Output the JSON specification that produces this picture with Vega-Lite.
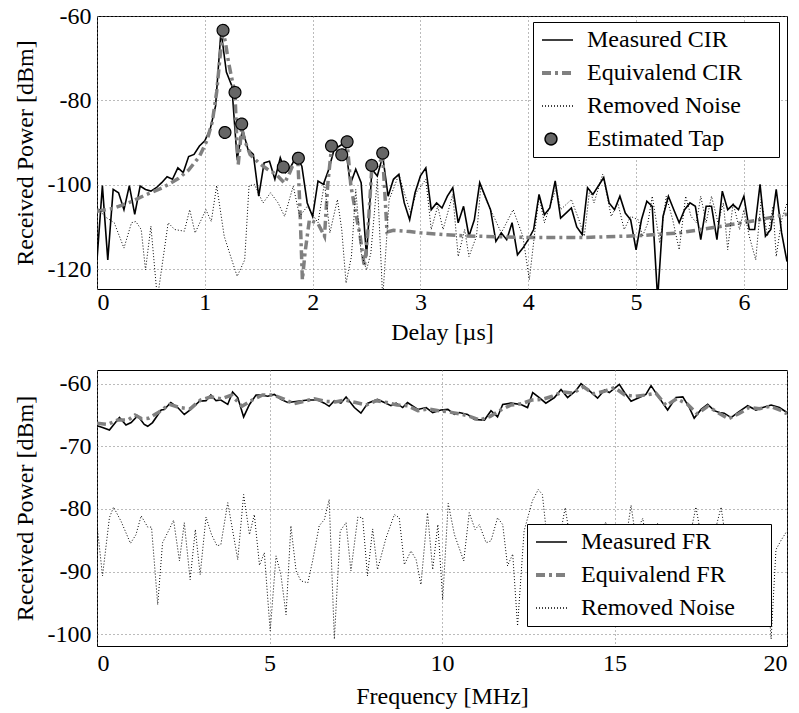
{
  "$schema": "https://vega.github.io/schema/vega-lite/v6.json",
  "padding": {"left": 12, "top": 3, "right": 13, "bottom": 3},
  "spacing": 24,
  "config": {
    "font": "Liberation Serif",
    "view": {"stroke": "black", "strokeWidth": 1},
    "axis": {
      "labelFont": "Liberation Serif", "titleFont": "Liberation Serif",
      "labelFontSize": 24, "titleFontSize": 24, "titleFontWeight": "normal",
      "labelColor": "black", "titleColor": "black",
      "grid": true, "gridColor": "#777", "gridDash": [1, 3], "gridWidth": 1,
      "domain": false, "ticks": false,
      "labelExpr": "replace(datum.label, '\u2212', '-')"
    },
    "axisX": {"labelPadding": 3, "titlePadding": 7},
    "axisY": {"labelPadding": 6, "titlePadding": 10},
    "legend": {"title": null, "labelFont": "Liberation Serif", "labelFontSize": 24, "labelColor": "black", "labelOffset": 24, "rowPadding": 9, "padding": 6,
      "labelLimit": 400,
      "strokeColor": "black", "fillColor": "white", "cornerRadius": 0, "symbolStrokeWidth": 1.5, "symbolSize": 140, "symbolOpacity": 1}
  },
  "resolve": {
    "scale": {"x": "independent", "y": "independent", "stroke": "independent", "strokeDash": "independent", "shape": "independent"},
    "legend": {"stroke": "independent", "strokeDash": "independent", "shape": "independent"}
  },
  "vconcat": [
    {
      "width": 690,
      "height": 273,
      "layer": [
        {
          "data": {"values": [
            {"t":0.00,"v":-117.8},{"t":0.05,"v":-100.2},{"t":0.10,"v":-117.8},{"t":0.15,"v":-101.1},{"t":0.20,"v":-101.9},
            {"t":0.25,"v":-105.9},{"t":0.30,"v":-100.2},{"t":0.35,"v":-107.0},{"t":0.40,"v":-100.3},{"t":0.45,"v":-101.1},
            {"t":0.50,"v":-101.5},{"t":0.55,"v":-100.7},{"t":0.60,"v":-99.5},{"t":0.65,"v":-98.1},{"t":0.70,"v":-98.7},
            {"t":0.75,"v":-96.0},{"t":0.80,"v":-97.1},{"t":0.85,"v":-93.3},{"t":0.90,"v":-92.8},{"t":0.95,"v":-90.8},
            {"t":1.00,"v":-89.6},{"t":1.05,"v":-86.8},{"t":1.10,"v":-81.3},{"t":1.15,"v":-63.5},{"t":1.20,"v":-73.3},
            {"t":1.25,"v":-76.5},{"t":1.30,"v":-94.0},{"t":1.35,"v":-86.8},{"t":1.40,"v":-91.6},{"t":1.45,"v":-92.8},
            {"t":1.50,"v":-102.7},{"t":1.55,"v":-94.8},{"t":1.60,"v":-94.4},{"t":1.65,"v":-98.7},{"t":1.70,"v":-93.6},
            {"t":1.75,"v":-97.1},{"t":1.80,"v":-95.6},{"t":1.85,"v":-93.2},{"t":1.90,"v":-95.6},{"t":1.95,"v":-104.3},
            {"t":2.00,"v":-107.5},{"t":2.05,"v":-99.1},{"t":2.10,"v":-99.9},{"t":2.15,"v":-96.3},{"t":2.20,"v":-91.6},
            {"t":2.25,"v":-90.8},{"t":2.30,"v":-90.0},{"t":2.35,"v":-99.9},{"t":2.40,"v":-96.3},{"t":2.45,"v":-99.5},
            {"t":2.50,"v":-117.0},{"t":2.55,"v":-96.3},{"t":2.60,"v":-97.9},{"t":2.65,"v":-93.2},{"t":2.70,"v":-102.7},
            {"t":2.75,"v":-98.7},{"t":2.80,"v":-97.5},{"t":2.85,"v":-104.3},{"t":2.90,"v":-108.3},{"t":2.95,"v":-101.9},
            {"t":3.00,"v":-97.9},{"t":3.05,"v":-96.0},{"t":3.10,"v":-105.9},{"t":3.15,"v":-104.3},{"t":3.20,"v":-105.5},
            {"t":3.25,"v":-102.7},{"t":3.30,"v":-100.7},{"t":3.35,"v":-109.0},{"t":3.40,"v":-105.1},{"t":3.45,"v":-112.2},
            {"t":3.50,"v":-108.3},{"t":3.55,"v":-99.5},{"t":3.60,"v":-102.7},{"t":3.65,"v":-105.9},{"t":3.70,"v":-113.4},
            {"t":3.75,"v":-111.4},{"t":3.80,"v":-113.0},{"t":3.85,"v":-109.0},{"t":3.90,"v":-116.6},{"t":3.95,"v":-115.0},
            {"t":4.00,"v":-113.0},{"t":4.05,"v":-110.6},{"t":4.10,"v":-102.3},{"t":4.15,"v":-107.1},{"t":4.20,"v":-105.5},
            {"t":4.25,"v":-99.1},{"t":4.30,"v":-107.9},{"t":4.35,"v":-106.7},{"t":4.40,"v":-105.5},{"t":4.45,"v":-110.0},
            {"t":4.50,"v":-111.8},{"t":4.55,"v":-100.7},{"t":4.60,"v":-102.3},{"t":4.65,"v":-100.3},{"t":4.70,"v":-98.3},
            {"t":4.75,"v":-104.3},{"t":4.80,"v":-105.9},{"t":4.85,"v":-102.7},{"t":4.90,"v":-106.7},{"t":4.95,"v":-108.3},
            {"t":5.00,"v":-115.4},{"t":5.05,"v":-108.3},{"t":5.10,"v":-103.9},{"t":5.15,"v":-105.1},{"t":5.20,"v":-127.0},
            {"t":5.25,"v":-107.5},{"t":5.30,"v":-102.7},{"t":5.35,"v":-105.9},{"t":5.40,"v":-109.0},{"t":5.45,"v":-105.9},
            {"t":5.50,"v":-104.3},{"t":5.55,"v":-105.1},{"t":5.60,"v":-113.0},{"t":5.65,"v":-105.1},{"t":5.70,"v":-105.1},
            {"t":5.75,"v":-113.0},{"t":5.80,"v":-101.5},{"t":5.85,"v":-105.9},{"t":5.90,"v":-104.7},{"t":5.95,"v":-105.9},
            {"t":6.00,"v":-102.7},{"t":6.05,"v":-110.6},{"t":6.10,"v":-110.6},{"t":6.15,"v":-99.9},{"t":6.20,"v":-112.2},
            {"t":6.25,"v":-110.6},{"t":6.30,"v":-101.1},{"t":6.35,"v":-111.4},{"t":6.40,"v":-118.2}
          ]},
          "mark": {"type": "line", "stroke": "black", "strokeWidth": 1.6, "clip": true},
          "encoding": {
            "x": {"field": "t", "type": "quantitative", "scale": {"domain": [0, 6.4], "nice": false, "zero": false},
                  "axis": {"values": [0, 1, 2, 3, 4, 5, 6], "format": "d", "title": "Delay [µs]", "labelPadding": 1, "titlePadding": 6}},
            "y": {"field": "v", "type": "quantitative", "scale": {"domain": [-124.7, -60], "nice": false, "zero": false},
                  "axis": {"values": [-120, -100, -80, -60], "format": "d", "title": "Received Power [dBm]"}}
          }
        },
        {
          "data": {"values": [
            {"t":0.0,"v":-106.3},{"t":0.15,"v":-105.6},{"t":0.3,"v":-104.2},{"t":0.45,"v":-102.4},{"t":0.6,"v":-100.8},
            {"t":0.75,"v":-98.6},{"t":0.85,"v":-96.5},{"t":0.95,"v":-93.3},{"t":1.02,"v":-89.5},{"t":1.07,"v":-85.0},
            {"t":1.11,"v":-78.0},{"t":1.14,"v":-70.0},{"t":1.169,"v":-63.8},{"t":1.19,"v":-66.0},{"t":1.22,"v":-71.0},
            {"t":1.26,"v":-76.0},{"t":1.28,"v":-78.5},{"t":1.295,"v":-88.0},{"t":1.31,"v":-95.2},{"t":1.342,"v":-86.5},
            {"t":1.37,"v":-89.5},{"t":1.42,"v":-92.8},{"t":1.5,"v":-94.8},{"t":1.58,"v":-96.3},{"t":1.66,"v":-97.5},
            {"t":1.74,"v":-99.6},{"t":1.79,"v":-97.0},{"t":1.86,"v":-92.5},{"t":1.88,"v":-104.0},{"t":1.905,"v":-122.5},
            {"t":1.93,"v":-116.0},{"t":1.97,"v":-108.3},{"t":2.05,"v":-109.2},{"t":2.11,"v":-112.2},{"t":2.14,"v":-100.0},
            {"t":2.175,"v":-91.2},{"t":2.22,"v":-91.5},{"t":2.27,"v":-92.5},{"t":2.32,"v":-90.0},{"t":2.355,"v":-100.3},
            {"t":2.4,"v":-106.7},{"t":2.44,"v":-112.0},{"t":2.48,"v":-119.4},{"t":2.51,"v":-112.0},{"t":2.548,"v":-96.5},
            {"t":2.6,"v":-95.5},{"t":2.65,"v":-93.5},{"t":2.67,"v":-102.0},{"t":2.69,"v":-111.2},{"t":2.75,"v":-110.8},
            {"t":2.9,"v":-111.1},{"t":3.0,"v":-111.4},{"t":3.4,"v":-112.1},{"t":4.0,"v":-112.5},{"t":4.5,"v":-112.5},
            {"t":5.0,"v":-112.1},{"t":5.4,"v":-111.4},{"t":5.8,"v":-109.8},{"t":6.1,"v":-108.5},{"t":6.4,"v":-107.0}
          ]},
          "mark": {"type": "line", "stroke": "#808080", "strokeWidth": 3.5, "strokeDash": [9, 4, 3, 4], "clip": true},
          "encoding": {
            "x": {"field": "t", "type": "quantitative"},
            "y": {"field": "v", "type": "quantitative"}
          }
        },
        {
          "data": {"values": [
            {"t":0.0,"v":-105.1},{"t":0.07,"v":-107.5},{"t":0.16,"v":-109.0},{"t":0.25,"v":-115.0},{"t":0.32,"v":-109.0},
            {"t":0.36,"v":-108.7},{"t":0.41,"v":-110.6},{"t":0.45,"v":-120.2},{"t":0.50,"v":-109.8},{"t":0.56,"v":-127.0},
            {"t":0.66,"v":-109.0},{"t":0.72,"v":-110.6},{"t":0.81,"v":-111.0},{"t":0.86,"v":-105.9},{"t":0.91,"v":-111.4},
            {"t":1.01,"v":-105.9},{"t":1.06,"v":-108.7},{"t":1.11,"v":-100.2},{"t":1.18,"v":-112.2},{"t":1.24,"v":-117.0},
            {"t":1.30,"v":-121.7},{"t":1.37,"v":-117.8},{"t":1.41,"v":-100.3},{"t":1.46,"v":-99.9},{"t":1.54,"v":-104.3},
            {"t":1.61,"v":-101.9},{"t":1.68,"v":-104.3},{"t":1.74,"v":-107.5},{"t":1.82,"v":-100.3},{"t":1.88,"v":-107.5},
            {"t":1.95,"v":-105.1},{"t":2.05,"v":-109.0},{"t":2.11,"v":-99.5},{"t":2.16,"v":-111.4},{"t":2.23,"v":-103.5},
            {"t":2.27,"v":-110.6},{"t":2.31,"v":-123.3},{"t":2.36,"v":-117.0},{"t":2.40,"v":-101.1},{"t":2.45,"v":-116.2},
            {"t":2.50,"v":-120.2},{"t":2.54,"v":-116.2},{"t":2.60,"v":-98.7},{"t":2.65,"v":-127.0},{"t":2.71,"v":-103.5},
            {"t":2.76,"v":-100.3},{"t":2.80,"v":-97.5},{"t":2.85,"v":-101.9},{"t":2.91,"v":-106.7},{"t":2.96,"v":-101.9},
            {"t":3.05,"v":-98.7},{"t":3.10,"v":-110.6},{"t":3.16,"v":-105.1},{"t":3.21,"v":-110.6},{"t":3.30,"v":-102.3},
            {"t":3.35,"v":-117.0},{"t":3.41,"v":-110.6},{"t":3.45,"v":-117.0},{"t":3.52,"v":-112.2},{"t":3.56,"v":-100.3},
            {"t":3.62,"v":-104.3},{"t":3.68,"v":-107.5},{"t":3.75,"v":-111.4},{"t":3.86,"v":-105.9},{"t":3.95,"v":-112.2},
            {"t":4.01,"v":-122.5},{"t":4.06,"v":-111.4},{"t":4.10,"v":-102.7},{"t":4.15,"v":-109.0},{"t":4.19,"v":-105.9},
            {"t":4.26,"v":-100.7},{"t":4.30,"v":-105.9},{"t":4.40,"v":-103.5},{"t":4.47,"v":-108.3},{"t":4.52,"v":-112.2},
            {"t":4.57,"v":-101.1},{"t":4.61,"v":-104.3},{"t":4.69,"v":-97.5},{"t":4.77,"v":-107.5},{"t":4.83,"v":-104.3},
            {"t":4.89,"v":-110.6},{"t":4.95,"v":-107.5},{"t":5.02,"v":-108.3},{"t":5.06,"v":-112.2},{"t":5.11,"v":-109.0},
            {"t":5.15,"v":-102.7},{"t":5.22,"v":-113.8},{"t":5.28,"v":-102.7},{"t":5.34,"v":-108.3},{"t":5.40,"v":-115.4},
            {"t":5.46,"v":-102.7},{"t":5.51,"v":-107.5},{"t":5.56,"v":-109.0},{"t":5.60,"v":-102.7},{"t":5.65,"v":-109.0},
            {"t":5.70,"v":-102.7},{"t":5.76,"v":-109.0},{"t":5.81,"v":-104.3},{"t":5.85,"v":-115.4},{"t":5.90,"v":-104.3},
            {"t":5.96,"v":-110.6},{"t":6.00,"v":-105.9},{"t":6.05,"v":-112.2},{"t":6.11,"v":-117.8},{"t":6.16,"v":-103.5},
            {"t":6.22,"v":-112.2},{"t":6.27,"v":-105.1},{"t":6.30,"v":-117.0},{"t":6.35,"v":-108.3},{"t":6.40,"v":-104.3}
          ]},
          "mark": {"type": "line", "stroke": "black", "strokeWidth": 1, "strokeDash": [1, 2], "clip": true},
          "encoding": {
            "x": {"field": "t", "type": "quantitative"},
            "y": {"field": "v", "type": "quantitative"}
          }
        },
        {
          "data": {"values": [
            {"t":1.169,"v":-63.4},{"t":1.187,"v":-87.6},{"t":1.28,"v":-78.1},{"t":1.342,"v":-85.6},{"t":1.728,"v":-95.8},
            {"t":1.868,"v":-93.7},{"t":2.175,"v":-90.8},{"t":2.27,"v":-92.9},{"t":2.32,"v":-89.8},{"t":2.548,"v":-95.4},
            {"t":2.65,"v":-92.5}
          ]},
          "mark": {"type": "point", "filled": true, "fill": "#666", "strokeWidth": 1.2, "size": 140, "opacity": 1},
          "encoding": {
            "x": {"field": "t", "type": "quantitative"},
            "y": {"field": "v", "type": "quantitative"},
            "stroke": {"datum": "Estimated Tap", "type": "nominal",
              "scale": {"domain": ["Measured CIR", "Equivalend CIR", "Removed Noise", "Estimated Tap"], "range": ["black", "#808080", "black", "black"]},
              "legend": {"orient": "none", "legendX": 436, "legendY": 6, "labelExpr": "datum.label + '\u00a0\u00a0\u2800'"}},
            "strokeDash": {"datum": "Estimated Tap", "type": "nominal",
              "scale": {"domain": ["Measured CIR", "Equivalend CIR", "Removed Noise", "Estimated Tap"], "range": [[1, 0], [9, 4, 3, 4], [1, 2], [1, 0]]},
              "legend": {"orient": "none", "legendX": 436, "legendY": 6, "labelExpr": "datum.label + '\u00a0\u00a0\u2800'"}},
            "shape": {"datum": "Estimated Tap", "type": "nominal",
              "scale": {"domain": ["Measured CIR", "Equivalend CIR", "Removed Noise", "Estimated Tap"],
                        "range": ["M-1.52,0L3.72,0", "M-1.52,-0.2L3.72,-0.2M-1.52,0L3.72,0M-1.52,0.2L3.72,0.2", "M-1.52,0L3.72,0", "circle"]},
              "legend": {"orient": "none", "legendX": 436, "legendY": 6, "labelExpr": "datum.label + '\u00a0\u00a0\u2800'"}}
          }
        }
      ]
    },
    {
      "width": 690,
      "height": 276,
      "layer": [
        {
          "data": {"values": [
            {"f":0.0,"v":-66.7},{"f":0.16,"v":-67.0},{"f":0.36,"v":-67.4},{"f":0.65,"v":-65.4},{"f":0.84,"v":-66.6},
            {"f":0.99,"v":-66.2},{"f":1.18,"v":-65.1},{"f":1.37,"v":-66.5},{"f":1.47,"v":-66.8},{"f":1.61,"v":-66.2},
            {"f":1.86,"v":-64.2},{"f":1.95,"v":-64.1},{"f":2.14,"v":-63.0},{"f":2.34,"v":-63.8},{"f":2.53,"v":-64.9},
            {"f":2.72,"v":-64.1},{"f":2.97,"v":-62.8},{"f":3.16,"v":-62.7},{"f":3.30,"v":-61.8},{"f":3.45,"v":-62.7},
            {"f":3.59,"v":-62.6},{"f":3.79,"v":-63.3},{"f":3.93,"v":-61.3},{"f":4.08,"v":-62.2},{"f":4.25,"v":-65.3},
            {"f":4.42,"v":-63.3},{"f":4.61,"v":-61.8},{"f":4.75,"v":-61.8},{"f":4.95,"v":-62.0},{"f":5.14,"v":-61.7},
            {"f":5.33,"v":-62.5},{"f":5.53,"v":-63.0},{"f":5.82,"v":-62.8},{"f":6.11,"v":-62.6},{"f":6.40,"v":-62.6},
            {"f":6.59,"v":-63.1},{"f":6.73,"v":-63.6},{"f":6.88,"v":-62.7},{"f":7.07,"v":-63.1},{"f":7.22,"v":-62.1},
            {"f":7.46,"v":-63.8},{"f":7.65,"v":-64.7},{"f":7.85,"v":-63.1},{"f":8.13,"v":-62.5},{"f":8.33,"v":-63.0},
            {"f":8.52,"v":-63.5},{"f":8.67,"v":-63.1},{"f":8.86,"v":-63.8},{"f":9.00,"v":-63.0},{"f":9.30,"v":-64.1},
            {"f":9.54,"v":-63.8},{"f":9.73,"v":-64.6},{"f":9.97,"v":-64.2},{"f":10.17,"v":-64.1},{"f":10.36,"v":-64.9},
            {"f":10.50,"v":-64.6},{"f":10.74,"v":-64.9},{"f":10.94,"v":-65.7},{"f":11.23,"v":-65.8},{"f":11.42,"v":-64.3},
            {"f":11.61,"v":-65.3},{"f":11.76,"v":-63.3},{"f":12.00,"v":-63.1},{"f":12.29,"v":-63.3},{"f":12.48,"v":-63.8},
            {"f":12.63,"v":-61.4},{"f":12.82,"v":-62.2},{"f":13.01,"v":-63.1},{"f":13.26,"v":-62.2},{"f":13.45,"v":-60.9},
            {"f":13.64,"v":-62.2},{"f":13.88,"v":-61.1},{"f":14.03,"v":-60.0},{"f":14.27,"v":-61.1},{"f":14.51,"v":-62.3},
            {"f":14.71,"v":-61.0},{"f":14.85,"v":-61.4},{"f":15.14,"v":-60.1},{"f":15.29,"v":-61.4},{"f":15.48,"v":-62.8},
            {"f":15.72,"v":-62.2},{"f":15.91,"v":-61.7},{"f":16.06,"v":-60.3},{"f":16.25,"v":-61.9},{"f":16.54,"v":-64.2},
            {"f":16.78,"v":-62.2},{"f":16.98,"v":-62.1},{"f":17.17,"v":-63.8},{"f":17.31,"v":-65.5},{"f":17.51,"v":-64.1},
            {"f":17.70,"v":-63.3},{"f":17.89,"v":-64.3},{"f":18.04,"v":-64.6},{"f":18.18,"v":-64.7},{"f":18.38,"v":-65.4},
            {"f":18.57,"v":-64.6},{"f":18.86,"v":-63.5},{"f":19.10,"v":-64.2},{"f":19.30,"v":-63.8},{"f":19.54,"v":-63.4},
            {"f":19.78,"v":-63.8},{"f":20.0,"v":-64.6}
          ]},
          "mark": {"type": "line", "stroke": "black", "strokeWidth": 1.6, "clip": true},
          "encoding": {
            "x": {"field": "f", "type": "quantitative", "scale": {"domain": [0, 20], "nice": false, "zero": false},
                  "axis": {"values": [0, 5, 10, 15, 20], "format": "d", "title": "Frequency [MHz]", "labelPadding": 5, "titlePadding": 9}},
            "y": {"field": "v", "type": "quantitative", "scale": {"domain": [-101.9, -57.8], "nice": false, "zero": false},
                  "axis": {"values": [-100, -90, -80, -70, -60], "format": "d", "title": "Received Power [dBm]"}}
          }
        },
        {
          "data": {"values": [
            {"f":0.0,"v":-66.3},{"f":0.3,"v":-66.5},{"f":0.6,"v":-65.8},{"f":0.9,"v":-65.8},{"f":1.1,"v":-65.0},
            {"f":1.3,"v":-65.6},{"f":1.5,"v":-65.5},{"f":1.8,"v":-64.5},{"f":2.1,"v":-63.3},{"f":2.4,"v":-63.8},
            {"f":2.7,"v":-64.0},{"f":3.0,"v":-62.6},{"f":3.3,"v":-62.1},{"f":3.6,"v":-62.4},{"f":3.9,"v":-61.8},
            {"f":4.2,"v":-63.6},{"f":4.5,"v":-62.6},{"f":4.8,"v":-61.8},{"f":5.1,"v":-61.8},{"f":5.4,"v":-62.4},
            {"f":5.7,"v":-63.2},{"f":6.0,"v":-62.8},{"f":6.3,"v":-62.4},{"f":6.6,"v":-62.8},{"f":6.9,"v":-62.9},
            {"f":7.2,"v":-62.6},{"f":7.5,"v":-63.0},{"f":7.8,"v":-63.4},{"f":8.1,"v":-62.7},{"f":8.4,"v":-63.0},
            {"f":8.7,"v":-63.4},{"f":9.0,"v":-63.5},{"f":9.3,"v":-64.3},{"f":9.6,"v":-64.0},{"f":9.9,"v":-64.3},
            {"f":10.2,"v":-64.5},{"f":10.5,"v":-64.8},{"f":10.8,"v":-65.2},{"f":11.1,"v":-65.8},{"f":11.4,"v":-65.2},
            {"f":11.7,"v":-64.2},{"f":12.0,"v":-63.4},{"f":12.3,"v":-63.2},{"f":12.6,"v":-62.6},{"f":12.9,"v":-62.5},
            {"f":13.2,"v":-62.0},{"f":13.5,"v":-61.3},{"f":13.8,"v":-61.5},{"f":14.1,"v":-60.5},{"f":14.4,"v":-61.6},
            {"f":14.7,"v":-61.2},{"f":15.0,"v":-60.6},{"f":15.3,"v":-61.8},{"f":15.6,"v":-62.0},{"f":15.9,"v":-61.8},
            {"f":16.2,"v":-61.5},{"f":16.5,"v":-63.5},{"f":16.8,"v":-62.4},{"f":17.1,"v":-63.2},{"f":17.4,"v":-64.8},
            {"f":17.7,"v":-63.6},{"f":18.0,"v":-64.6},{"f":18.3,"v":-65.6},{"f":18.6,"v":-64.8},{"f":18.9,"v":-63.8},
            {"f":19.2,"v":-64.0},{"f":19.5,"v":-63.6},{"f":19.8,"v":-64.2},{"f":20.0,"v":-64.8}
          ]},
          "mark": {"type": "line", "stroke": "#808080", "strokeWidth": 3.5, "strokeDash": [9, 4, 3, 4], "clip": true},
          "encoding": {
            "x": {"field": "f", "type": "quantitative"},
            "y": {"field": "v", "type": "quantitative"}
          }
        },
        {
          "data": {"values": [
            {"f":0.0,"v":-82.5},{"f":0.16,"v":-90.7},{"f":0.36,"v":-81.4},{"f":0.48,"v":-79.7},{"f":0.70,"v":-82.0},
            {"f":0.97,"v":-85.5},{"f":1.13,"v":-84.1},{"f":1.28,"v":-81.1},{"f":1.47,"v":-82.9},{"f":1.58,"v":-82.9},
            {"f":1.76,"v":-95.3},{"f":1.90,"v":-85.4},{"f":2.10,"v":-83.2},{"f":2.22,"v":-81.8},{"f":2.39,"v":-88.3},
            {"f":2.53,"v":-82.2},{"f":2.70,"v":-91.3},{"f":2.85,"v":-83.3},{"f":2.99,"v":-90.5},{"f":3.16,"v":-81.3},
            {"f":3.32,"v":-84.1},{"f":3.48,"v":-85.9},{"f":3.59,"v":-85.7},{"f":3.79,"v":-79.0},{"f":4.08,"v":-88.1},
            {"f":4.25,"v":-77.7},{"f":4.42,"v":-84.1},{"f":4.56,"v":-80.9},{"f":4.71,"v":-89.0},{"f":4.85,"v":-87.0},
            {"f":5.02,"v":-99.5},{"f":5.19,"v":-87.5},{"f":5.33,"v":-90.5},{"f":5.48,"v":-96.9},{"f":5.62,"v":-82.7},
            {"f":5.77,"v":-89.9},{"f":5.91,"v":-91.5},{"f":6.11,"v":-91.8},{"f":6.25,"v":-88.3},{"f":6.44,"v":-82.7},
            {"f":6.59,"v":-81.7},{"f":6.73,"v":-78.5},{"f":6.88,"v":-100.8},{"f":7.05,"v":-83.5},{"f":7.22,"v":-82.2},
            {"f":7.36,"v":-89.9},{"f":7.56,"v":-81.3},{"f":7.70,"v":-81.4},{"f":7.84,"v":-90.7},{"f":7.99,"v":-83.2},
            {"f":8.13,"v":-89.7},{"f":8.38,"v":-84.6},{"f":8.62,"v":-80.9},{"f":8.76,"v":-81.4},{"f":8.91,"v":-88.9},
            {"f":9.10,"v":-86.7},{"f":9.25,"v":-88.1},{"f":9.39,"v":-92.1},{"f":9.58,"v":-80.6},{"f":9.73,"v":-89.7},
            {"f":9.88,"v":-82.5},{"f":10.02,"v":-94.5},{"f":10.18,"v":-79.1},{"f":10.36,"v":-84.1},{"f":10.63,"v":-88.3},
            {"f":10.79,"v":-80.6},{"f":10.96,"v":-83.3},{"f":11.08,"v":-82.5},{"f":11.28,"v":-85.4},{"f":11.42,"v":-85.1},
            {"f":11.61,"v":-81.4},{"f":11.76,"v":-82.5},{"f":11.90,"v":-89.1},{"f":12.05,"v":-87.2},{"f":12.19,"v":-98.7},
            {"f":12.38,"v":-83.5},{"f":12.62,"v":-78.7},{"f":12.79,"v":-76.9},{"f":12.91,"v":-77.7},{"f":13.05,"v":-85.0},
            {"f":13.3,"v":-88.0},{"f":13.57,"v":-79.8},{"f":13.75,"v":-86.0},{"f":14.0,"v":-84.0},{"f":14.2,"v":-90.0},
            {"f":14.45,"v":-85.0},{"f":14.75,"v":-82.1},{"f":14.9,"v":-87.0},{"f":15.14,"v":-82.8},{"f":15.3,"v":-86.0},
            {"f":15.48,"v":-79.4},{"f":15.6,"v":-84.0},{"f":15.82,"v":-81.5},{"f":16.0,"v":-88.0},{"f":16.25,"v":-82.3},
            {"f":16.5,"v":-85.0},{"f":16.8,"v":-83.0},{"f":17.0,"v":-89.0},{"f":17.2,"v":-84.0},{"f":17.36,"v":-79.7},
            {"f":17.5,"v":-84.0},{"f":17.8,"v":-86.0},{"f":18.09,"v":-79.7},{"f":18.2,"v":-84.0},{"f":18.5,"v":-90.0},
            {"f":18.8,"v":-85.0},{"f":19.1,"v":-88.0},{"f":19.35,"v":-86.0},{"f":19.54,"v":-100.8},{"f":19.68,"v":-86.5},
            {"f":19.83,"v":-85.0},{"f":20.0,"v":-83.5}
          ]},
          "mark": {"type": "line", "stroke": "black", "strokeWidth": 1, "strokeDash": [1, 2], "clip": true},
          "encoding": {
            "x": {"field": "f", "type": "quantitative"},
            "y": {"field": "v", "type": "quantitative"}
          }
        },
        {
          "data": {"values": [{"f": 0.0, "v": -66.7}]},
          "mark": {"type": "point", "filled": false, "opacity": 0, "size": 140},
          "encoding": {
            "x": {"field": "f", "type": "quantitative"},
            "y": {"field": "v", "type": "quantitative"},
            "stroke": {"datum": "Measured FR", "type": "nominal",
              "scale": {"domain": ["Measured FR", "Equivalend FR", "Removed Noise"], "range": ["black", "#808080", "black"]},
              "legend": {"orient": "none", "legendX": 430, "legendY": 154, "labelExpr": "datum.label + '\u00a0\u00a0\u2800'"}},
            "strokeDash": {"datum": "Measured FR", "type": "nominal",
              "scale": {"domain": ["Measured FR", "Equivalend FR", "Removed Noise"], "range": [[1, 0], [9, 4, 3, 4], [1, 2]]},
              "legend": {"orient": "none", "legendX": 430, "legendY": 154, "labelExpr": "datum.label + '\u00a0\u00a0\u2800'"}},
            "shape": {"datum": "Measured FR", "type": "nominal",
              "scale": {"domain": ["Measured FR", "Equivalend FR", "Removed Noise"],
                        "range": ["M-1.52,0L3.72,0", "M-1.52,-0.2L3.72,-0.2M-1.52,0L3.72,0M-1.52,0.2L3.72,0.2", "M-1.52,0L3.72,0"]},
              "legend": {"orient": "none", "legendX": 430, "legendY": 154, "labelExpr": "datum.label + '\u00a0\u00a0\u2800'"}}
          }
        }
      ]
    }
  ]
}
